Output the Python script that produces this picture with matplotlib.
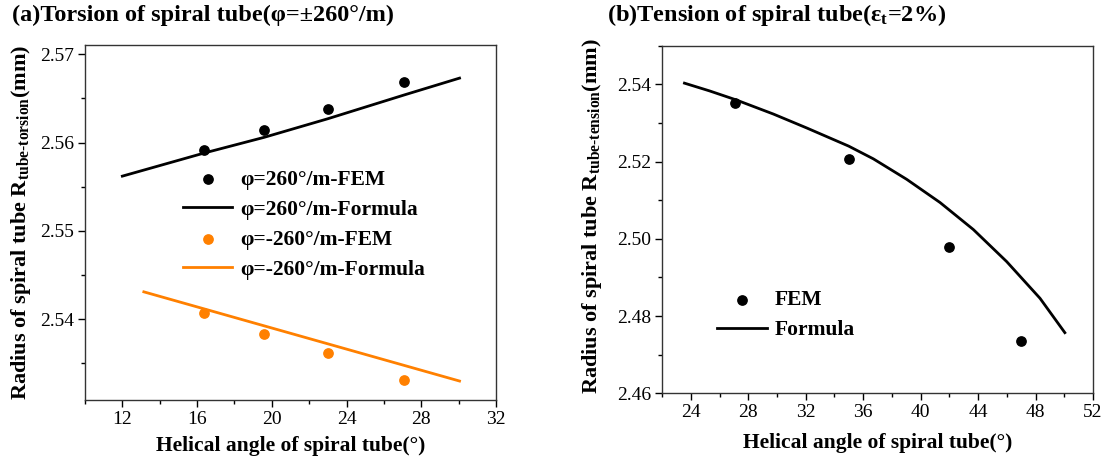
"""Spiral tube radius: torsion and tension comparison (FEM vs formula)"""
import numpy as np
import matplotlib
matplotlib.use('Agg')
import matplotlib.pyplot as plt
from matplotlib.ticker import MultipleLocator

plt.rcParams['font.family'] = ['Liberation Serif', 'DejaVu Serif']
plt.rcParams['mathtext.fontset'] = 'custom'
plt.rcParams['mathtext.rm'] = 'Liberation Serif:bold'
plt.rcParams['mathtext.it'] = 'Liberation Serif:bold'
plt.rcParams['mathtext.bf'] = 'Liberation Serif:bold'

# (a) torsion data
tor_fem_x = [16.35, 19.6, 23.0, 27.1]
tor_pos_fem = [2.5592, 2.5614, 2.5638, 2.5669]
tor_neg_fem = [2.5407, 2.5383, 2.5362, 2.5331]
tor_pos_line_x = [12.0, 16.35, 19.6, 23.0, 27.1, 30.05]
tor_pos_line_y = [2.5562, 2.5588, 2.5606, 2.5627, 2.5654, 2.5673]
tor_neg_line_x = [13.15, 30.05]
tor_neg_line_y = [2.5431, 2.5330]

# (b) tension data
ten_fem_x = [27.1, 35.0, 42.0, 47.0]
ten_fem_y = [2.5351, 2.5206, 2.4980, 2.4736]
ten_line_x = [23.56, 25.3, 27.13, 29.75, 32.07, 34.99, 36.71, 39.03, 41.35, 43.67, 45.99, 48.31, 50.04]
ten_line_y = [2.5403, 2.5383, 2.5360, 2.5323, 2.5287, 2.5240, 2.5207, 2.5154, 2.5094, 2.5024, 2.4941, 2.4846, 2.4757]

ORANGE = '#ff8000'
LEG_PROP = {'weight': 'bold', 'size': 15.5}

fig = plt.figure(figsize=(11.11, 4.69), dpi=100)
ax1 = fig.add_axes([0.0765, 0.148, 0.3699, 0.757])
ax2 = fig.add_axes([0.5959, 0.1614, 0.3879, 0.7412])


def style_axis(ax):
    ax.tick_params(which='both', direction='out', top=False, right=False, labelsize=14)
    ax.tick_params(which='major', length=5, width=1, pad=3)
    ax.tick_params(which='minor', length=3, width=1)
    for s in ax.spines.values():
        s.set_linewidth(1.0)
        s.set_color('#333333')


# Plot (a)
ax1.scatter(tor_fem_x, tor_pos_fem, s=45, color='black', zorder=3, label='φ=260°/m-FEM')
ax1.plot(tor_pos_line_x, tor_pos_line_y, color='black', lw=2, label='φ=260°/m-Formula')
ax1.scatter(tor_fem_x, tor_neg_fem, s=45, color=ORANGE, zorder=3, label='φ=-260°/m-FEM')
ax1.plot(tor_neg_line_x, tor_neg_line_y, color=ORANGE, lw=2, label='φ=-260°/m-Formula')
ax1.set_xlim(10, 32)
ax1.set_ylim(2.5309, 2.5711)
ax1.xaxis.set_minor_locator(MultipleLocator(2))
ax1.yaxis.set_major_locator(MultipleLocator(0.01))
ax1.yaxis.set_minor_locator(MultipleLocator(0.005))
ax1.set_xticks([12, 16, 20, 24, 28, 32])
ax1.yaxis.set_major_formatter(plt.FormatStrFormatter('%.2f'))
style_axis(ax1)
ax1.set_xlabel('Helical angle of spiral tube(°)', fontsize=15.5, fontweight='bold', labelpad=6)
ax1.set_ylabel(r'Radius of spiral tube R$_{\text{tube-torsion}}$(mm)', fontsize=16,
               fontweight='bold')
ax1.yaxis.set_label_coords(-0.127, 0.5)
ax1.legend(loc='upper left', bbox_to_anchor=(0.238, 0.648), frameon=False, prop=LEG_PROP,
           handlelength=2.3, handletextpad=0.35, labelspacing=0.46, borderaxespad=0,
           borderpad=0)
fig.text(0.011, 0.968, '(a)Torsion of spiral tube(φ=±260°/m)', fontsize=17.5,
         fontweight='bold', va='center', ha='left')

# Plot (b)
ax2.scatter(ten_fem_x, ten_fem_y, s=45, color='black', zorder=3, label='FEM')
ax2.plot(ten_line_x, ten_line_y, color='black', lw=2, label='Formula')
ax2.set_xlim(22, 52)
ax2.set_ylim(2.46, 2.55)
ax2.xaxis.set_minor_locator(MultipleLocator(2))
ax2.set_xticks([24, 28, 32, 36, 40, 44, 48, 52])
ax2.set_yticks([2.46, 2.48, 2.50, 2.52, 2.54])
ax2.yaxis.set_minor_locator(MultipleLocator(0.01))
ax2.yaxis.set_major_formatter(plt.FormatStrFormatter('%.2f'))
style_axis(ax2)
ax2.set_xlabel('Helical angle of spiral tube(°)', fontsize=15.5, fontweight='bold', labelpad=8)
ax2.set_ylabel(r'Radius of spiral tube R$_{\text{tube-tension}}$(mm)', fontsize=16,
               fontweight='bold')
ax2.yaxis.set_label_coords(-0.135, 0.51)
ax2.legend(loc='upper left', bbox_to_anchor=(0.128, 0.296), frameon=False, prop=LEG_PROP,
           handlelength=2.3, handletextpad=0.35, labelspacing=0.46, borderaxespad=0,
           borderpad=0)
fig.text(0.546, 0.968, r'(b)Tension of spiral tube(ε$_{\mathregular{t}}$=2%)', fontsize=17.5,
         fontweight='bold', va='center', ha='left')

fig.savefig('out.png', dpi=100)
